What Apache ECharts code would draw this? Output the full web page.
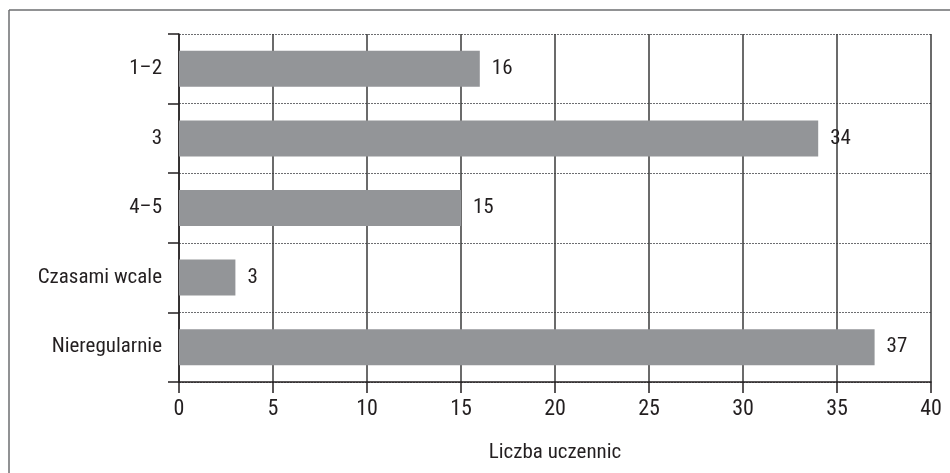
<!DOCTYPE html>
<html>
<head>
<meta charset="utf-8">
<style>
  html, body { margin: 0; padding: 0; background: #ffffff; }
  #chart { width: 950px; height: 473px; }
</style>
<script src="https://cdn.jsdelivr.net/npm/echarts@6/dist/echarts.min.js"></script>
</head>
<body>
<div id="chart"></div>
<script>
// Number of lessons per week – survey answers
const categories = ['1–2', '3', '4–5', 'Czasami wcale', 'Nieregularnie'];
const counts = [16, 34, 15, 3, 37];
const axisTitle = 'Liczba uczennic';
const valueTicks = { min: 0, max: 40, interval: 5 };

const FONT = "'Liberation Sans Narrow', 'Arial Narrow', 'Roboto Condensed', 'Liberation Sans', sans-serif";
const INK = '#231f20';

const chart = echarts.init(document.getElementById('chart'), null, { renderer: 'canvas' });

chart.setOption({
  animation: false,
  backgroundColor: '#ffffff',
  textStyle: { fontFamily: FONT, color: INK },
  graphic: [
    // frame: top and left edges
    { type: 'line', shape: { x1: 9, y1: 10, x2: 950, y2: 10 }, style: { stroke: '#6d6e71', lineWidth: 1.5 } },
    { type: 'line', shape: { x1: 9, y1: 10, x2: 9, y2: 473 }, style: { stroke: '#6d6e71', lineWidth: 1.5 } }
  ],
  grid: { left: 179, right: 19, top: 34, bottom: 91, containLabel: false },
  xAxis: {
    type: 'value',
    min: valueTicks.min,
    max: valueTicks.max,
    interval: valueTicks.interval,
    name: axisTitle,
    nameLocation: 'middle',
    nameGap: 60,
    nameTextStyle: { fontFamily: FONT, fontSize: 21, color: INK },
    axisLine: { show: true, lineStyle: { color: '#231f20', width: 1.5 } },
    axisTick: { show: true, length: 11, lineStyle: { color: '#231f20', width: 1.5 } },
    axisLabel: { fontFamily: FONT, fontSize: 22, color: INK, margin: 16 },
    splitLine: { show: true, lineStyle: { color: '#3a3a3a', width: 1.5, type: 'solid' } }
  },
  yAxis: {
    type: 'category',
    data: categories,
    inverse: true,
    axisLine: { show: true, lineStyle: { color: '#231f20', width: 1.5 } },
    axisTick: { show: true, length: 11, lineStyle: { color: '#231f20', width: 1.5 } },
    axisLabel: { fontFamily: FONT, fontSize: 21, color: INK, margin: 17 },
    splitLine: { show: true, lineStyle: { color: '#6d6e71', width: 1, type: [2, 1] } }
  },
  series: [{
    type: 'bar',
    data: counts,
    barWidth: 36,
    itemStyle: { color: '#939598' },
    label: {
      show: true,
      position: 'right',
      distance: 12,
      fontFamily: FONT,
      fontSize: 21,
      color: INK
    }
  }]
});
</script>
</body>
</html>
